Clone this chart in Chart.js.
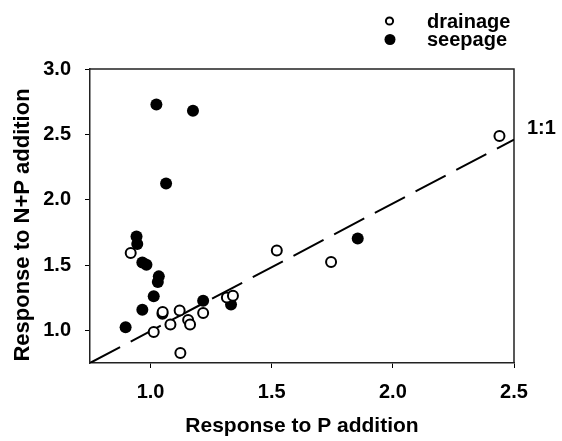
<!DOCTYPE html>
<html>
<head>
<meta charset="utf-8">
<script src="https://cdn.jsdelivr.net/npm/chart.js@4.4.1/dist/chart.umd.min.js"></script>
<style>
  html, body { margin: 0; padding: 0; background: #fff; }
  canvas { display: block; }
</style>
</head>
<body>
<canvas id="chart" width="562" height="441"></canvas>
<script>
// data
var drainageX = [0.918, 1.521, 1.745, 1.315, 1.340, 1.050, 1.120, 1.217, 1.155, 1.163, 1.082, 1.013, 1.123, 2.440];
var drainageY = [1.591, 1.611, 1.523, 1.252, 1.265, 1.141, 1.151, 1.133, 1.080, 1.045, 1.044, 0.988, 0.826, 2.487];

var seepageX = [0.942, 0.945, 0.966, 0.983, 1.034, 1.030, 1.013, 0.966, 0.897, 1.217, 1.332, 1.049, 1.855, 1.024, 1.175, 1.064];
var seepageY = [1.718, 1.660, 1.519, 1.502, 1.413, 1.370, 1.260, 1.158, 1.023, 1.227, 1.197, 1.126, 1.703, 2.729, 2.680, 2.123];

var lineX = [0.75, 2.5];
var lineY = [0.75, 2.46];

var xTicks = [1.0, 1.5, 2.0, 2.5];
var yTicks = [1.0, 1.5, 2.0, 2.5, 3.0];

var FONT = '"Liberation Sans", Arial, sans-serif';

function toPoints(xs, ys) {
    var pts = [];
    for (var i = 0; i < xs.length; i++) {
        pts.push({ x: xs[i], y: ys[i] });
    }
    return pts;
}

// frame, axis titles, legend and the 1:1 label
var extrasPlugin = {
    id: 'extras',
    beforeDatasetsDraw: function(chart) {
        var ctx = chart.ctx;
        var a = chart.chartArea;
        ctx.save();
        ctx.strokeStyle = '#222';
        ctx.lineWidth = 1.5;
        ctx.beginPath();
        ctx.moveTo(a.left, a.top);
        ctx.lineTo(a.right, a.top);
        ctx.lineTo(a.right, a.bottom);
        ctx.stroke();
        ctx.restore();
    },
    afterDraw: function(chart) {
        var ctx = chart.ctx;
        var a = chart.chartArea;
        ctx.save();
        ctx.fillStyle = '#000';
        ctx.textBaseline = 'alphabetic';

        // x title
        ctx.font = 'bold 21px ' + FONT;
        ctx.textAlign = 'center';
        ctx.fillText('Response to P addition', (a.left + a.right) / 2, 432);

        // y title
        ctx.save();
        ctx.font = 'bold 22px ' + FONT;
        ctx.translate(29, 225);
        ctx.rotate(-Math.PI / 2);
        ctx.fillText('Response to N+P addition', 0, 0);
        ctx.restore();

        // 1:1 label
        ctx.font = 'bold 20px ' + FONT;
        ctx.textAlign = 'left';
        ctx.fillText('1:1', 527, 134);

        // legend
        ctx.lineWidth = 2;
        ctx.strokeStyle = '#000';
        ctx.beginPath();
        ctx.arc(389.5, 21, 3.6, 0, Math.PI * 2);
        ctx.fillStyle = '#fff';
        ctx.fill();
        ctx.stroke();
        ctx.beginPath();
        ctx.arc(390, 39.5, 5.5, 0, Math.PI * 2);
        ctx.fillStyle = '#000';
        ctx.fill();
        ctx.fillText('drainage', 427, 27.7);
        ctx.fillText('seepage', 427, 46);
        ctx.restore();
    }
};

var ctx = document.getElementById('chart').getContext('2d');

var chart = new Chart(ctx, {
    type: 'scatter',
    data: {
        datasets: [
            {
                label: 'drainage',
                data: toPoints(drainageX, drainageY),
                pointRadius: 5,
                pointBorderWidth: 2,
                pointBorderColor: '#000',
                pointBackgroundColor: '#fff'
            },
            {
                label: 'seepage',
                data: toPoints(seepageX, seepageY),
                pointRadius: 6,
                pointBorderWidth: 0,
                pointBorderColor: '#000',
                pointBackgroundColor: '#000'
            },
            {
                type: 'line',
                label: '1:1',
                data: toPoints(lineX, lineY),
                borderColor: '#000',
                borderWidth: 2,
                borderDash: [34, 12],
                pointRadius: 0,
                fill: false
            }
        ]
    },
    options: {
        responsive: false,
        animation: false,
        layout: {
            padding: { top: 69, right: 48, left: 0, bottom: 0 }
        },
        plugins: {
            legend: { display: false },
            tooltip: { enabled: false }
        },
        scales: {
            x: {
                type: 'linear',
                min: 0.75,
                max: 2.5,
                afterBuildTicks: function(s) {
                    s.ticks = xTicks.map(function(v) { return { value: v }; });
                },
                afterFit: function(s) { s.height = 78; },
                grid: {
                    display: true,
                    drawOnChartArea: false,
                    drawTicks: true,
                    tickLength: 5,
                    color: '#000',
                    lineWidth: 1
                },
                border: { display: true, color: '#222', width: 1.5 },
                ticks: {
                    color: '#000',
                    padding: 12,
                    maxRotation: 0,
                    font: { family: FONT, size: 20, weight: 'bold' },
                    callback: function(v) { return v.toFixed(1); }
                }
            },
            y: {
                type: 'linear',
                min: 0.75,
                max: 3.0,
                afterBuildTicks: function(s) {
                    s.ticks = yTicks.map(function(v) { return { value: v }; });
                },
                afterFit: function(s) { s.width = 90; },
                grid: {
                    display: true,
                    drawOnChartArea: false,
                    drawTicks: true,
                    tickLength: 5,
                    color: '#000',
                    lineWidth: 1
                },
                border: { display: true, color: '#222', width: 1.5 },
                ticks: {
                    color: '#000',
                    padding: 14,
                    font: { family: FONT, size: 20, weight: 'bold' },
                    callback: function(v) { return v.toFixed(1); }
                }
            }
        }
    },
    plugins: [extrasPlugin]
});
</script>
</body>
</html>
